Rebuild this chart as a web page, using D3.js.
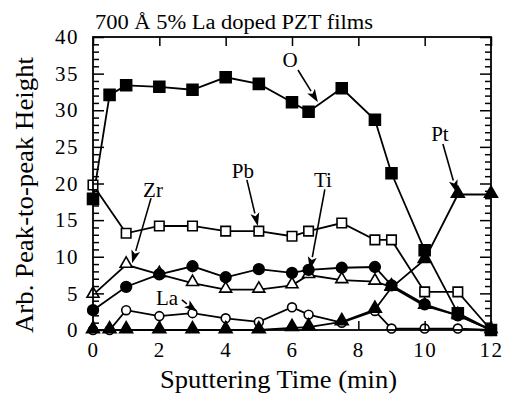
<!DOCTYPE html>
<html>
<head>
<meta charset="utf-8">
<script src="https://cdn.jsdelivr.net/npm/d3@7"></script>
<style>
  html, body { margin: 0; padding: 0; background: #fff; }
  svg { display: block; }
  text { font-family: "Liberation Serif", "Times New Roman", serif; fill: #000; }
</style>
</head>
<body>
<svg id="chart" width="505" height="395"></svg>
<script>
// ---- data ----
const title = "700 Å 5% La doped PZT films";
const xLabel = "Sputtering Time (min)";
const yLabel = "Arb. Peak-to-peak Height";
const xTicks = [0, 2, 4, 6, 8, 10, 12];
const yTicks = [0, 5, 10, 15, 20, 25, 30, 35, 40];

const timeA = [0, 0.5, 1, 2, 3, 4, 5, 6, 6.5, 7.5, 8.5, 9, 10, 11, 12];
const timeB = [0, 1, 2, 3, 4, 5, 6, 6.5, 7.5, 8.5, 9, 10, 11, 12];

const oxygen   = [17.9, 32.1, 33.4, 33.2, 32.8, 34.5, 33.6, 31.1, 29.8, 33.0, 28.7, 21.4, 10.9, 2.3, 0];
const lanthan  = [0, 0, 2.7, 1.9, 2.3, 1.6, 1.1, 3.1, 2.1, 1.0, 2.6, 0.2, 0.2, 0.2, 0];
const platinum = [0, 0, 0, 0, 0, 0, 0, 0.3, 0.4, 1.1, 2.8, 5.8, 9.6, 18.5, 18.5];
const lead     = [19.8, 13.2, 14.2, 14.2, 13.5, 13.5, 12.8, 13.5, 14.6, 12.3, 12.3, 5.2, 5.2, 0];
const titanium = [2.7, 5.9, 7.6, 8.7, 7.2, 8.3, 7.8, 8.2, 8.5, 8.6, 6.1, 3.5, 2.0, 0];
const zirconium= [4.8, 8.9, 7.6, 6.4, 5.5, 5.5, 6.1, 7.5, 6.8, 6.6, 5.9, 3.3, 2.0, 0];

// annotation labels in data units
const labelNames = ["O", "Pt", "Pb", "Ti", "Zr", "La"];
const labelAt  = [[5.94, 36.9], [10.46, 26.8], [4.52, 21.7], [6.93, 20.5], [1.81, 19.2], [2.23, 4.4]];
const arrowFrom= [[6.18, 35.5], [10.55, 25.4], [4.64, 20.5], [6.99, 19.2], [1.75, 18.0], [2.68, 4.1]];
const arrowTo  = [[6.78, 31.1], [10.97, 18.7], [4.97, 14.2], [6.54, 8.2], [1.18, 9.1], [3.14, 2.5]];

// ---- drawing ----
const svg = d3.select("#chart");
const x = d3.scaleLinear().domain([0, 12]).range([93, 491]);
const y = d3.scaleLinear().domain([0, 40]).range([330, 37]);

const series = [
  { name: "O",  t: timeA, v: oxygen,    shape: d3.symbolSquare,   size: 120, filled: true },
  { name: "Pt", t: timeA, v: platinum,  shape: d3.symbolTriangle, size: 72,  filled: true },
  { name: "Ti", t: timeB, v: titanium,  shape: d3.symbolCircle,   size: 90,  filled: true },
  { name: "Pb", t: timeB, v: lead,      shape: d3.symbolSquare,   size: 90,  filled: false },
  { name: "Zr", t: timeB, v: zirconium, shape: d3.symbolTriangle, size: 62,  filled: false },
  { name: "La", t: timeA, v: lanthan,   shape: d3.symbolCircle,   size: 62,  filled: false }
];

const line = d3.line().x(d => x(d[0])).y(d => y(d[1]));

svg.append("g").selectAll("path").data(series).join("path")
  .attr("d", s => line(s.t.map((t, i) => [t, s.v[i]])))
  .attr("fill", "none").attr("stroke", "#000").attr("stroke-width", 1.8);

const order = ["La", "Zr", "Pb", "Ti", "Pt", "O"];
order.forEach(n => {
  const s = series.find(d => d.name === n);
  const sym = d3.symbol().type(s.shape).size(s.size);
  svg.append("g").selectAll("path").data(s.t.map((t, i) => [t, s.v[i]])).join("path")
    .attr("transform", d => `translate(${x(d[0])},${y(d[1]) + (s.shape === d3.symbolTriangle ? -1 : 0)})`)
    .attr("d", sym)
    .attr("fill", s.filled ? "#000" : "#fff")
    .attr("stroke", "#000").attr("stroke-width", 1.6);
});

function styleAxis(g) {
  g.select(".domain").remove();
  g.selectAll("line").attr("stroke", "#000").attr("stroke-width", 1.5);
  g.selectAll("text").style("font-size", "21px").style("font-family", "Liberation Serif")
    .attr("letter-spacing", "1.5");
}
const yMinor = d3.range(0, 41, 1).filter(v => v % 5 !== 0);

svg.append("g").attr("transform", "translate(0,330)")
  .call(d3.axisBottom(x).tickValues(xTicks).tickSizeInner(-9).tickSizeOuter(0).tickPadding(12).tickFormat(d3.format("d")))
  .call(styleAxis);
svg.append("g").attr("transform", "translate(0,37)")
  .call(d3.axisTop(x).tickValues(xTicks).tickSizeInner(-9).tickSizeOuter(0).tickFormat(""))
  .call(styleAxis);
svg.append("g").attr("transform", "translate(93,0)")
  .call(d3.axisLeft(y).tickValues(yTicks).tickSizeInner(-11).tickSizeOuter(0).tickPadding(14).tickFormat(d3.format("d")))
  .call(styleAxis);
svg.append("g").attr("transform", "translate(93,0)")
  .call(d3.axisLeft(y).tickValues(yMinor).tickSizeInner(-6).tickSizeOuter(0).tickFormat(""))
  .call(styleAxis);
svg.append("g").attr("transform", "translate(491,0)")
  .call(d3.axisRight(y).tickValues(yTicks).tickSizeInner(-11).tickSizeOuter(0).tickFormat(""))
  .call(styleAxis);
svg.append("g").attr("transform", "translate(491,0)")
  .call(d3.axisRight(y).tickValues(yMinor).tickSizeInner(-6).tickSizeOuter(0).tickFormat(""))
  .call(styleAxis);

svg.append("rect")
  .attr("x", x(0)).attr("y", y(40))
  .attr("width", x(12) - x(0)).attr("height", y(0) - y(40))
  .attr("fill", "none").attr("stroke", "#000").attr("stroke-width", 1.8);

svg.append("text").attr("x", 95).attr("y", 29)
  .attr("textLength", 278).attr("lengthAdjust", "spacingAndGlyphs")
  .style("font-size", "20px").text(title);
svg.append("text").attr("x", 160).attr("y", 388)
  .attr("textLength", 237).attr("lengthAdjust", "spacingAndGlyphs")
  .style("font-size", "25px").text(xLabel);
svg.append("text").attr("transform", "translate(33,333) rotate(-90)")
  .attr("textLength", 276).attr("lengthAdjust", "spacingAndGlyphs")
  .style("font-size", "25px").text(yLabel);

const ann = svg.append("g");
labelNames.forEach((name, i) => {
  ann.append("text")
    .attr("x", x(labelAt[i][0])).attr("y", y(labelAt[i][1]))
    .attr("text-anchor", "middle").attr("dy", "0.35em")
    .style("font-size", "21px").text(name);
  const x0 = x(arrowFrom[i][0]), y0 = y(arrowFrom[i][1]);
  const x1 = x(arrowTo[i][0]), y1 = y(arrowTo[i][1]);
  const ang = Math.atan2(y1 - y0, x1 - x0);
  const L = 13, Wd = 4.5;
  const bx = x1 - L * Math.cos(ang), by = y1 - L * Math.sin(ang);
  ann.append("line")
    .attr("x1", x0).attr("y1", y0).attr("x2", bx).attr("y2", by)
    .attr("stroke", "#000").attr("stroke-width", 1.6);
  const pts = [
    [x1, y1],
    [bx + Wd * Math.sin(ang), by - Wd * Math.cos(ang)],
    [bx + 3 * Math.cos(ang), by + 3 * Math.sin(ang)],
    [bx - Wd * Math.sin(ang), by + Wd * Math.cos(ang)]
  ];
  ann.append("path").attr("d", "M" + pts.map(p => p.join(",")).join("L") + "Z")
    .attr("fill", "#000");
});
</script>
</body>
</html>
